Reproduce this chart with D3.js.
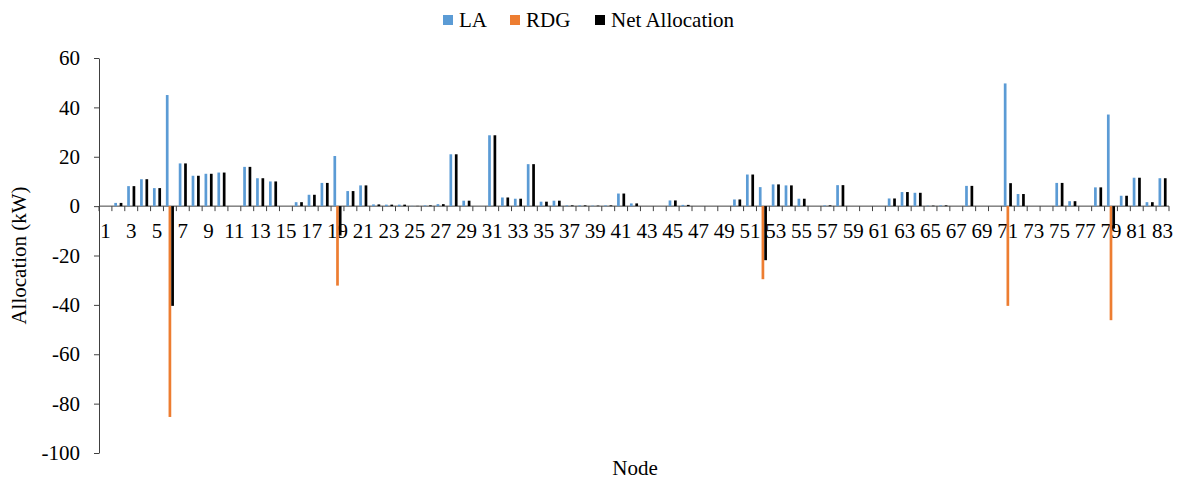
<!DOCTYPE html>
<html>
<head>
<meta charset="utf-8">
<script src="https://cdn.jsdelivr.net/npm/d3@7"></script>
<style>
  html, body { margin: 0; padding: 0; background: #fff; }
</style>
</head>
<body>
<svg id="chart" width="1182" height="480"></svg>
<script>
// Node numbers 1..83
const nodes = d3.range(1, 84);

// Load allocation per node (kW)
const laValues = [
  0, 1.3, 8.1, 10.9, 7.3, 45.0, 17.3, 12.3, 13.1, 13.6,
  0, 15.9, 11.3, 10.0, 0, 1.6, 4.6, 9.4, 20.3, 6.1,
  8.4, 0.7, 0.6, 0.6, 0.1, 0.3, 0.8, 21.0, 2.2, 0,
  28.7, 3.5, 3.0, 17.0, 1.8, 2.2, 0.3, 0.3, 0.2, 0.3,
  5.1, 1.1, 0, 0, 2.3, 0.5, 0, 0, 0, 2.7,
  12.8, 7.7, 8.8, 8.4, 3.0, 0, 0.3, 8.5, 0, 0,
  0, 3.1, 5.7, 5.4, 0.2, 0.3, 0, 8.2, 0, 0,
  49.7, 4.9, 0, 0, 9.4, 2.0, 0, 7.6, 37.1, 4.2,
  11.5, 1.6, 11.3
];

// Renewable distributed generation per node (kW, negative = supply)
const rdgValues = [
  0, 0, 0, 0, 0, -85.4, 0, 0, 0, 0,
  0, 0, 0, 0, 0, 0, 0, 0, -32.2, 0,
  0, 0, 0, 0, 0, 0, 0, 0, 0, 0,
  0, 0, 0, 0, 0, 0, 0, 0, 0, 0,
  0, 0, 0, 0, 0, 0, 0, 0, 0, 0,
  0, -29.6, 0, 0, 0, 0, 0, 0, 0, 0,
  0, 0, 0, 0, 0, 0, 0, 0, 0, 0,
  -40.4, 0, 0, 0, 0, 0, 0, 0, -46.2, 0,
  0, 0, 0
];

// Net allocation per node (kW)
const netValues = [
  0, 1.3, 8.1, 10.9, 7.3, -40.4, 17.3, 12.3, 13.1, 13.6,
  0, 15.9, 11.3, 10.0, 0, 1.6, 4.6, 9.4, -11.9, 6.1,
  8.4, 0.7, 0.6, 0.6, 0.1, 0.3, 0.8, 21.0, 2.2, 0,
  28.7, 3.5, 3.0, 17.0, 1.8, 2.2, 0.3, 0.3, 0.2, 0.3,
  5.1, 1.1, 0, 0, 2.3, 0.5, 0, 0, 0, 2.7,
  12.8, -21.9, 8.8, 8.4, 3.0, 0, 0.3, 8.5, 0, 0,
  0, 3.1, 5.7, 5.4, 0.2, 0.3, 0, 8.2, 0, 0,
  9.3, 4.9, 0, 0, 9.4, 2.0, 0, 7.6, -9.1, 4.2,
  11.5, 1.6, 11.3
];

const seriesNames = ["LA", "RDG", "Net Allocation"];
const seriesColors = ["#5B9BD5", "#ED7D31", "#000000"];
const yTicks = [-100, -80, -60, -40, -20, 0, 20, 40, 60];

const series = [
  { name: seriesNames[0], color: seriesColors[0], values: laValues },
  { name: seriesNames[1], color: seriesColors[1], values: rdgValues },
  { name: seriesNames[2], color: seriesColors[2], values: netValues }
];

const FONT = "'Liberation Serif', 'Times New Roman', Times, 'DejaVu Serif', serif";

const svg = d3.select("#chart");
const plot = { left: 99, right: 1169, top: 58, bottom: 453 };
const axisColor = "#404040";

const x = d3.scaleBand().domain(nodes).range([plot.left, plot.right]).padding(0);
const xs = d3.scaleBand().domain(seriesNames).range([0, x.bandwidth()])
  .paddingInner(0).paddingOuter(0.89);
const y = d3.scaleLinear().domain([-100, 60]).range([plot.bottom, plot.top]);

// Y axis
const yAxis = svg.append("g")
  .attr("transform", `translate(${plot.left},0)`)
  .call(d3.axisLeft(y).tickValues(yTicks).tickSize(5).tickSizeOuter(0).tickPadding(14)
    .tickFormat(d => String(d)));
yAxis.attr("font-family", null).attr("font-size", null);
yAxis.select(".domain").attr("stroke", axisColor);
yAxis.selectAll(".tick line").attr("stroke", axisColor);
yAxis.selectAll(".tick text")
  .style("font-family", FONT)
  .style("font-size", "21px")
  .attr("fill", "#000");

// Category axis along zero line
const y0 = y(0);
const xAxis = svg.append("g");
xAxis.append("line")
  .attr("x1", plot.left).attr("x2", plot.right)
  .attr("y1", y0).attr("y2", y0)
  .attr("stroke", axisColor);
const boundaries = nodes.map(n => x(n)).concat([x(nodes[nodes.length - 1]) + x.bandwidth()]);
xAxis.selectAll("line.tk").data(boundaries).join("line")
  .attr("class", "tk")
  .attr("x1", d => d).attr("x2", d => d)
  .attr("y1", y0).attr("y2", y0 + 5)
  .attr("stroke", axisColor);
xAxis.selectAll("text").data(nodes.filter(n => n % 2 === 1)).join("text")
  .attr("x", d => x(d) + x.bandwidth() / 2)
  .attr("y", y0 + 32)
  .attr("text-anchor", "middle")
  .style("font-family", FONT)
  .style("font-size", "21px")
  .text(d => d);

// Bars
const groups = svg.append("g").selectAll("g").data(series).join("g")
  .attr("fill", d => d.color);
groups.selectAll("rect")
  .data(s => s.values.map((v, i) => ({ node: nodes[i], v, name: s.name })))
  .join("rect")
  .attr("x", d => x(d.node) + xs(d.name))
  .attr("width", xs.bandwidth())
  .attr("y", d => Math.min(y(d.v), y0))
  .attr("height", d => Math.abs(y(d.v) - y0));

// Axis titles
svg.append("text")
  .attr("transform", `translate(26,${(plot.top + plot.bottom) / 2}) rotate(-90)`)
  .attr("text-anchor", "middle")
  .style("font-family", FONT)
  .style("font-size", "21px")
  .text("Allocation (kW)");
svg.append("text")
  .attr("x", 635).attr("y", 475)
  .attr("text-anchor", "middle")
  .style("font-family", FONT)
  .style("font-size", "21px")
  .text("Node");

// Legend
const legendItems = [
  { x: 443, textX: 459 },
  { x: 510, textX: 526 },
  { x: 595, textX: 611 }
];
const legend = svg.append("g");
series.forEach((s, i) => {
  legend.append("rect")
    .attr("x", legendItems[i].x).attr("y", 15)
    .attr("width", 10).attr("height", 10)
    .attr("fill", s.color);
  legend.append("text")
    .attr("x", legendItems[i].textX).attr("y", 27)
    .style("font-family", FONT)
    .style("font-size", "21px")
    .text(s.name);
});
</script>
</body>
</html>
